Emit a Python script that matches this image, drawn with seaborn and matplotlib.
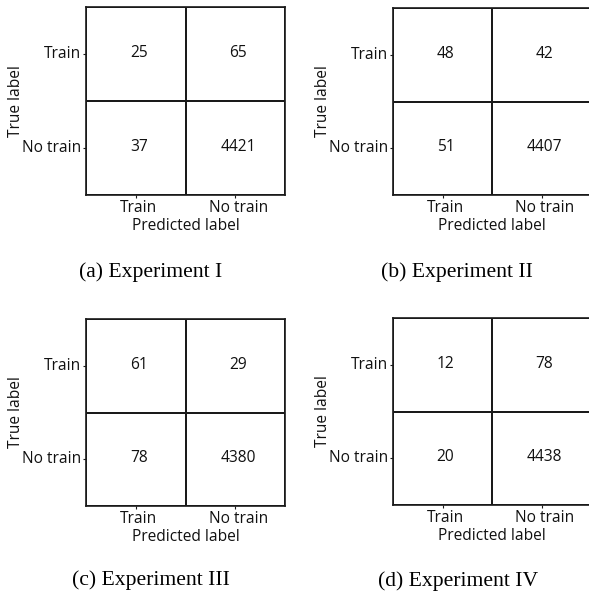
import numpy as np
import pandas as pd
import seaborn as sns
import matplotlib
matplotlib.use("Agg")
import matplotlib.pyplot as plt
from matplotlib.colors import ListedColormap
from matplotlib.transforms import ScaledTranslation

# Class names (rows: true label, columns: predicted label)
class_labels = ["Train", "No train"]

# Confusion matrices for each experiment
exp_i = [[25, 65], [37, 4421]]
exp_ii = [[48, 42], [51, 4407]]
exp_iii = [[61, 29], [78, 4380]]
exp_iv = [[12, 78], [20, 4438]]

captions = ["(a) Experiment I", "(b) Experiment II",
            "(c) Experiment III", "(d) Experiment IV"]

W, H = 589, 594
fig = plt.figure(figsize=(W / 100, H / 100), dpi=100)
plt.rcParams["font.family"] = ["Open Sans", "DejaVu Sans"]

FS = 11.2
LINE = "#1a1a1a"

# axes boxes in pixels: left, top, right, bottom
boxes = [(86, 7, 285, 195), (393, 8, 591, 195),
         (86, 319, 285, 506), (393, 318, 591, 505)]
caption_pos = [(151, 272), (457, 272), (151, 580), (458, 581)]

for mat, (l, t, r, b), cap, (cx, cy) in zip(
        [exp_i, exp_ii, exp_iii, exp_iv], boxes, captions, caption_pos):
    ax = fig.add_axes([l / W, (H - b) / H, (r - l) / W, (b - t) / H])
    df = pd.DataFrame(mat, index=class_labels, columns=class_labels)
    sns.heatmap(df, annot=True, fmt="d", cmap=ListedColormap(["white"]),
                cbar=False, linewidths=1.2, linecolor=LINE, ax=ax,
                annot_kws=dict(color="#111111", fontsize=FS,
                               family=["Open Sans", "DejaVu Sans"]))
    for s in ax.spines.values():
        s.set_visible(True)
        s.set_color(LINE)
        s.set_linewidth(1.2)
    ax.tick_params(axis="both", length=2.2, width=0.8, pad=1.2,
                   labelsize=FS, color=LINE, labelcolor="#111111")
    ax.set_yticklabels(ax.get_yticklabels(), rotation=0, va="center")
    ax.set_xticklabels(ax.get_xticklabels(), rotation=0)
    ax.set_xlabel("Predicted label", fontsize=FS, labelpad=1.5,
                  color="#111111")
    ax.set_ylabel("True label", fontsize=FS, labelpad=-1.5, color="#111111")

    shift = ScaledTranslation(3 / 100, 1 / 100, fig.dpi_scale_trans)
    for txt in ax.texts:
        txt.set_transform(txt.get_transform() + shift)
    xshift = ScaledTranslation(3 / 100, 0, fig.dpi_scale_trans)
    for lab in ax.get_xticklabels():
        lab.set_transform(lab.get_transform() + xshift)

    fig.text(cx / W, 1 - cy / H, cap, ha="center", va="center",
             fontsize=15.6, family=["Liberation Serif", "DejaVu Serif"])

fig.savefig("out.png", dpi=100, facecolor="white")
